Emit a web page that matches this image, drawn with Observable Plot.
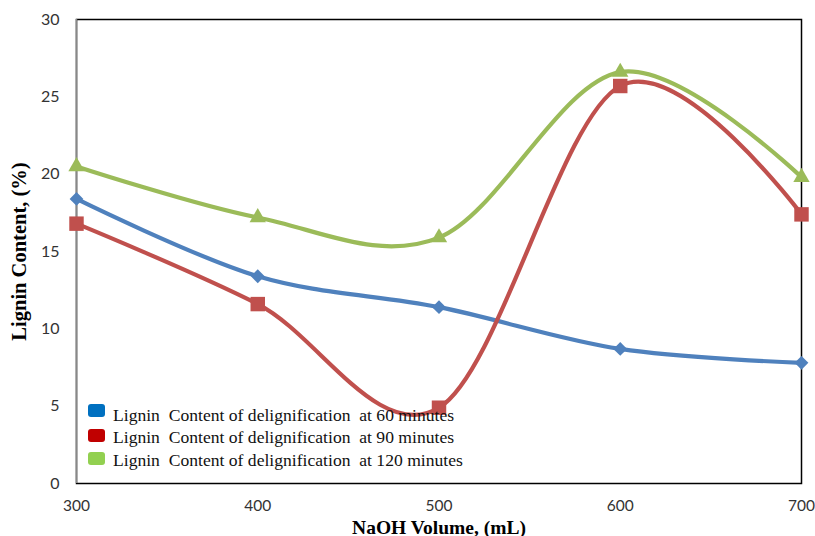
<!DOCTYPE html>
<html>
<head>
<meta charset="utf-8">
<script src="https://cdn.jsdelivr.net/npm/d3@7"></script>
<script src="https://cdn.jsdelivr.net/npm/@observablehq/plot@0.6"></script>
<style>
  html, body { margin: 0; padding: 0; background: #fff; }
  #wrap { position: relative; width: 815px; height: 536px; }
  #legend { position: absolute; left: 88px; top: 404px; font-family: "Liberation Serif", "Times New Roman", serif; font-size: 17.6px; color: #111; }
  .item { display: flex; align-items: center; height: 22.6px; white-space: pre; }
  .sw { width: 17px; height: 13px; border-radius: 3px; margin-right: 8px; }
</style>
</head>
<body>
<div id="wrap"><div id="legend"></div></div>
<script>
const naoh = [300, 400, 500, 600, 700];
const series = ["Lignin  Content of delignification  at 60 minutes",
                "Lignin  Content of delignification  at 90 minutes",
                "Lignin  Content of delignification  at 120 minutes"];
const min60  = [18.4, 13.4, 11.4, 8.7, 7.8];
const min90  = [16.8, 11.6, 4.9, 25.7, 17.4];
const min120 = [20.5, 17.2, 15.9, 26.6, 19.8];
const yTicks = [0, 5, 10, 15, 20, 25, 30];
const xTicks = [300, 400, 500, 600, 700];
const xTitle = "NaOH Volume, (mL)";
const yTitle = "Lignin Content, (%)";

const lineColors = ["#4F81BD", "#C0504D", "#9BBB59"];
const legendColors = ["#0070C0", "#C00000", "#92D050"];
const symbols = ["diamond2", "square2", "triangle2"];
const radii = [6.2, 9.2, 7.8];

const values = [min60, min90, min120];
const rows = values.map((vals, s) => naoh.map((x, i) => ({x, y: vals[i], s})));

const marks = [
  Plot.frame({stroke: "#000", strokeWidth: 1.5}),
  Plot.ruleX([300], {stroke: "#888", strokeWidth: 1.5}),
  Plot.axisY({ticks: yTicks, tickSize: 0, tickPadding: 17, label: null,
    fontSize: 16, fill: "#333"}),
  Plot.axisX({ticks: xTicks, tickSize: 0, tickPadding: 16, label: null,
    fontSize: 15.5, fill: "#333"}),
  Plot.text([xTitle], {frameAnchor: "bottom", dy: 50, text: d => d,
    fontFamily: "Liberation Serif", fontWeight: "bold", fontSize: 19.5, fill: "#000"}),
  Plot.text([yTitle], {frameAnchor: "left", textAnchor: "middle", dx: -57, rotate: -90, text: d => d,
    fontFamily: "Liberation Serif", fontWeight: "bold", fontSize: 20.5, fill: "#000"})
];
rows.forEach((data, s) => {
  marks.push(Plot.line(data, {x: "x", y: "y", curve: "cardinal", tension: 0,
    stroke: lineColors[s], strokeWidth: 4.2}));
});
rows.forEach((data, s) => {
  marks.push(Plot.dot(data, {x: "x", y: "y", symbol: symbols[s], r: radii[s],
    fill: lineColors[s], stroke: "none"}));
});

const chart = Plot.plot({
  width: 815, height: 536,
  marginLeft: 76, marginRight: 14, marginTop: 19, marginBottom: 53,
  style: {fontFamily: "Lato, 'Open Sans', sans-serif", background: "#fff"},
  x: {domain: [300, 700]},
  y: {domain: [0, 30]},
  marks
});
document.getElementById("wrap").prepend(chart);

const lg = document.getElementById("legend");
const swOffsets = [-5, -2, -2];
series.forEach((name, i) => {
  const it = document.createElement("div");
  it.className = "item";
  const sw = document.createElement("div");
  sw.className = "sw";
  sw.style.background = legendColors[i];
  sw.style.transform = `translateY(${swOffsets[i]}px)`;
  const t = document.createElement("span");
  t.textContent = name;
  it.append(sw, t);
  lg.append(it);
});
</script>
</body>
</html>
